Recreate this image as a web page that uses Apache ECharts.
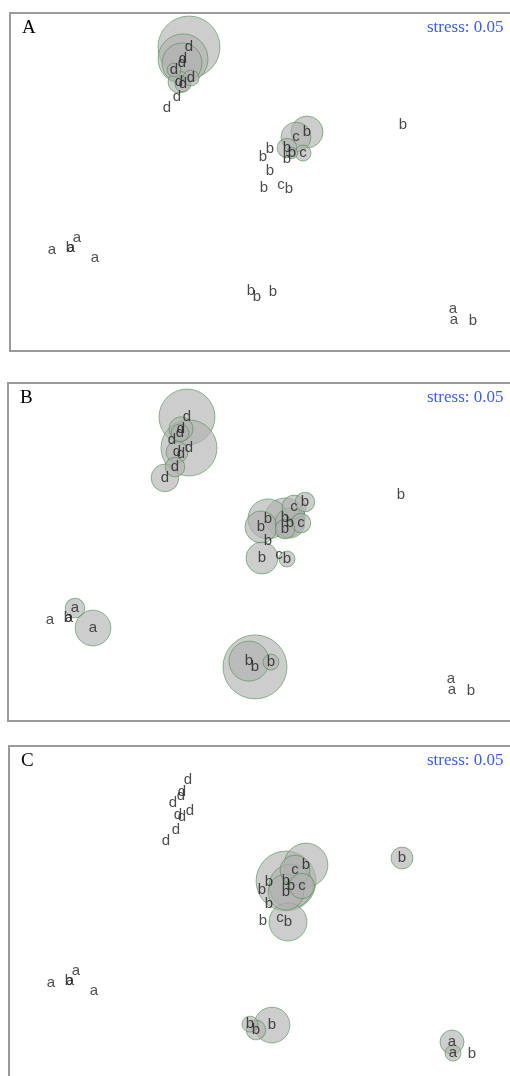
<!DOCTYPE html>
<html>
<head>
<meta charset="utf-8">
<script src="https://cdn.jsdelivr.net/npm/echarts@6/dist/echarts.min.js"></script>
<style>
html,body{margin:0;padding:0;background:#fff;overflow:hidden;width:510px;height:1076px;}
#chart{width:540px;height:1100px;}
</style>
</head>
<body>
<div id="chart"></div>
<script>
// sample group labels
const groups = ['d','d','d','d','d','d','d','d','d',
  'b','c','b','b','c','b','b','b','b','b','c','b','b',
  'a','b','a','a','a',
  'b','b','b',
  'a','a','b'];
// NMDS axis 1
const nmds1 = [-0.284,-0.308,-0.312,-0.344,-0.324,-0.308,-0.276,-0.332,-0.372,
  0.188,0.144,0.108,0.128,0.172,0.108,0.040,0.012,0.040,0.016,0.084,0.116,0.572,
  -0.832,-0.760,-0.756,-0.732,-0.660,
  -0.036,-0.012,0.052,
  0.772,0.776,0.852];
// NMDS axis 2
const nmds2 = [0.559,0.510,0.493,0.464,0.414,0.406,0.431,0.352,0.307,
  0.207,0.186,0.141,0.120,0.120,0.095,0.137,0.104,0.046,-0.025,-0.012,-0.029,0.236,
  -0.282,-0.273,-0.273,-0.232,-0.315,
  -0.452,-0.476,-0.456,
  -0.526,-0.572,-0.576];
// bubble abundance per panel (0 = no bubble)
const abundA = [60,39,25,3,7.5,4,4,0,0,
  16,14,6,2,4,0,0,0,0,0,0,0,0,
  0,0,0,0,0,
  0,0,0,
  0,0,0];
const abundB = [49,9,5,0,7.5,0,49,6,12,
  6,9,25,14,6,6,25,16,0,16,0,4,0,
  0,0,0,6,20,
  25,64,4,
  0,0,0];
const abundC = [0,0,0,0,0,0,0,0,0,
  30,14,56,30,10,20,0,0,0,0,0,22.5,7.5,
  0,0,0,0,0,
  4,6,20,
  9,4,0];
const panelNames = ['A','B','C'];
const stressText = 'stress: 0.05';

const chart = echarts.init(document.getElementById('chart'));
const gridPos = [
  {left: 10, top: 13},
  {left: 8, top: 383},
  {left: 9, top: 746}
];
const abunds = [abundA, abundB, abundC];
const grids = [], xAxes = [], yAxes = [], series = [], graphics = [];
gridPos.forEach((g, i) => {
  grids.push({left: g.left, top: g.top, width: 510, height: 338, show: true,
    borderColor: '#9a9a9a', borderWidth: 2, backgroundColor: '#fff'});
  xAxes.push({gridIndex: i, type: 'value', min: -1.0, max: 1.04, show: false});
  yAxes.push({gridIndex: i, type: 'value', min: -0.70, max: 0.70, show: false});
  const bub = [];
  abunds[i].forEach((v, k) => { if (v > 0) bub.push([nmds1[k], nmds2[k], v]); });
  bub.sort((a, b) => b[2] - a[2]);
  series.push({type: 'scatter', xAxisIndex: i, yAxisIndex: i, data: bub,
    symbolSize: d => 8 * Math.sqrt(d[2]),
    itemStyle: {color: 'rgba(176,176,176,0.8)', borderColor: 'rgba(70,135,70,0.7)', borderWidth: 1},
    silent: true, z: 2});
  series.push({type: 'scatter', xAxisIndex: i, yAxisIndex: i,
    data: groups.map((gname, k) => ({value: [nmds1[k], nmds2[k]], name: gname})),
    symbolSize: 1, itemStyle: {color: 'transparent'},
    label: {show: true, position: 'inside', formatter: p => p.name,
      fontFamily: 'Liberation Sans', fontSize: 15, color: '#1e1e1e'},
    silent: true, z: 3});
  graphics.push({type: 'text', left: g.left + 12, top: g.top + 6,
    style: {text: panelNames[i], font: '19px "Liberation Serif"', fill: '#000'}, z: 10});
  graphics.push({type: 'text', left: 427, top: g.top + 6,
    style: {text: stressText, font: '17px "Liberation Serif"', fill: '#3b5bff'}, z: 10});
});

chart.setOption({
  animation: false,
  grid: grids, xAxis: xAxes, yAxis: yAxes, series: series, graphic: graphics
});
</script>
</body>
</html>
